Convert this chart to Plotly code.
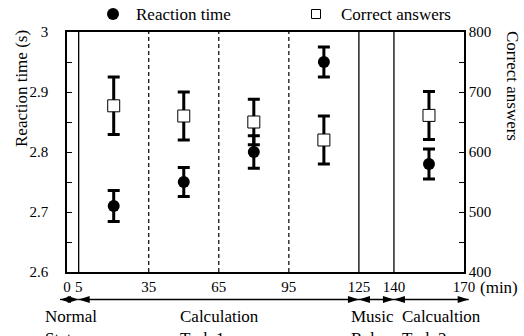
import plotly.graph_objects as go

# ---- data ----
time_min = [20, 50, 80, 110, 155]
reaction_time = [2.71, 2.75, 2.80, 2.95, 2.78]
reaction_err = [0.026, 0.024, 0.027, 0.025, 0.025]
correct_answers = [677, 660, 650, 620, 661]
correct_err = [48, 40, 38, 40, 40]

x_ticks = [0, 5, 35, 65, 95, 125, 140, 170]
solid_lines = [5, 125, 140]
dashed_lines = [35, 65, 95]
phase_bounds = [-3, 5, 125, 140, 172]
phase_labels = ["Normal<br>State", "Calculation<br>Task 1", "Music<br>Relax", "Calcualtion<br>Task 2"]
phase_label_x = [-10.3, 47.5, 120.8, 142.6]
legend_names = ["Reaction time", "Correct answers"]

FONT = "Times New Roman, Liberation Serif, DejaVu Serif, serif"
W, H = 524, 336
ML, MR, MT, MB = 67, 60, 32, 64
PW = W - ML - MR
PH = H - MT - MB
XR = (0, 170)


def px_x(px):
    return (px - ML) / PW


def px_y(py):
    return (H - MB - py) / PH


def data_x(v):
    return (v - XR[0]) / (XR[1] - XR[0])


fig = go.Figure()
fig.add_trace(go.Scatter(
    x=time_min, y=reaction_time, mode="markers", name=legend_names[0],
    marker=dict(symbol="circle", size=12, color="black"),
    error_y=dict(type="data", array=reaction_err, color="black", thickness=3, width=6),
    yaxis="y", showlegend=False))
fig.add_trace(go.Scatter(
    x=time_min, y=correct_answers, mode="markers", name=legend_names[1],
    marker=dict(symbol="square", size=12, color="white", line=dict(color="black", width=1)),
    error_y=dict(type="data", array=correct_err, color="black", thickness=3, width=6),
    yaxis="y2", showlegend=False))

shapes = []
for v in solid_lines:
    shapes.append(dict(type="line", xref="x", yref="paper", x0=v, x1=v, y0=0, y1=1,
                       line=dict(color="black", width=1.3)))
for v in dashed_lines:
    shapes.append(dict(type="line", xref="x", yref="paper", x0=v, x1=v, y0=0, y1=1,
                       line=dict(color="black", width=1.2, dash="4px,3px")))

# phase arrows below the axis
arrow_y = px_y(299.5)
head_len, head_half = 11, 3.6
for i in range(len(phase_bounds) - 1):
    a, b = data_x(phase_bounds[i]), data_x(phase_bounds[i + 1])
    shapes.append(dict(type="line", xref="paper", yref="paper", x0=a, x1=b, y0=arrow_y, y1=arrow_y,
                       line=dict(color="black", width=1.3)))
    shapes.append(dict(type="path", xref="paper", yref="paper", xsizemode="pixel", ysizemode="pixel",
                       xanchor=b, yanchor=arrow_y,
                       path=f"M0,0 L{-head_len},{head_half} L{-head_len},{-head_half} Z",
                       fillcolor="black", line=dict(width=0)))
    shapes.append(dict(type="path", xref="paper", yref="paper", xsizemode="pixel", ysizemode="pixel",
                       xanchor=a, yanchor=arrow_y,
                       path=f"M0,0 L{head_len},{head_half} L{head_len},{-head_half} Z",
                       fillcolor="black", line=dict(width=0)))

# manual legend (symbols)
leg_y = px_y(14)
shapes.append(dict(type="circle", xref="paper", yref="paper", xsizemode="pixel", ysizemode="pixel",
                   xanchor=px_x(113), yanchor=leg_y, x0=-6, x1=6, y0=-6, y1=6,
                   fillcolor="black", line=dict(color="black", width=0)))
shapes.append(dict(type="rect", xref="paper", yref="paper", xsizemode="pixel", ysizemode="pixel",
                   xanchor=px_x(316), yanchor=leg_y, x0=-4.5, x1=4.5, y0=-4.5, y1=4.5,
                   fillcolor="white", line=dict(color="black", width=1)))

annotations = []
for name, lx in zip(legend_names, [134, 339]):
    annotations.append(dict(text=name, x=px_x(lx), y=leg_y, xref="paper", yref="paper",
                            xanchor="left", yanchor="middle", showarrow=False,
                            font=dict(family=FONT, size=17, color="black")))

label_y = px_y(305)
for txt, xv in zip(phase_labels, phase_label_x):
    annotations.append(dict(text=txt, x=data_x(xv), y=label_y, xref="paper", yref="paper",
                            xanchor="left", yanchor="top", align="left", showarrow=False,
                            font=dict(family=FONT, size=17, color="black")))
annotations.append(dict(text="(min)", x=px_x(478), y=px_y(287),
                        xref="paper", yref="paper", xanchor="left", yanchor="middle",
                        showarrow=False, font=dict(family=FONT, size=17, color="black")))
annotations.append(dict(text="Reaction time (s)", x=px_x(21), y=px_y(89),
                        xref="paper", yref="paper", xanchor="center", yanchor="middle",
                        textangle=-90, showarrow=False,
                        font=dict(family=FONT, size=17, color="black")))
annotations.append(dict(text="Correct answers", x=px_x(513), y=px_y(86),
                        xref="paper", yref="paper", xanchor="center", yanchor="middle",
                        textangle=90, showarrow=False,
                        font=dict(family=FONT, size=17, color="black")))

axis_common = dict(showgrid=False, zeroline=False, showline=True, linecolor="black",
                   linewidth=1.5, tickfont=dict(family=FONT, size=15, color="black"))

fig.update_layout(
    width=W, height=H, margin=dict(l=ML, r=MR, t=MT, b=MB, autoexpand=False),
    paper_bgcolor="white", plot_bgcolor="white",
    font=dict(family=FONT, size=17, color="black"),
    xaxis=dict(range=list(XR), tickvals=x_ticks, ticks="", mirror=True, **axis_common),
    yaxis=dict(range=[2.6, 3.0], tickvals=[2.6, 2.7, 2.8, 2.9, 3.0],
               ticktext=["2.6", "2.7", "2.8", "2.9", "3"], ticks="inside", ticklen=5,
               tickcolor="black", ticklabelstandoff=14,
               minor=dict(ticks="inside", ticklen=5, dtick=0.05, tick0=2.6, tickcolor="black"),
               **axis_common),
    yaxis2=dict(range=[400, 800], overlaying="y", side="right", dtick=100, tick0=400,
                ticks="inside", ticklen=5, tickcolor="black",
                minor=dict(ticks="inside", ticklen=5, dtick=50, tick0=400, tickcolor="black"),
                **axis_common),
    showlegend=False,
    shapes=shapes, annotations=annotations,
)

fig.write_html("out.html")
